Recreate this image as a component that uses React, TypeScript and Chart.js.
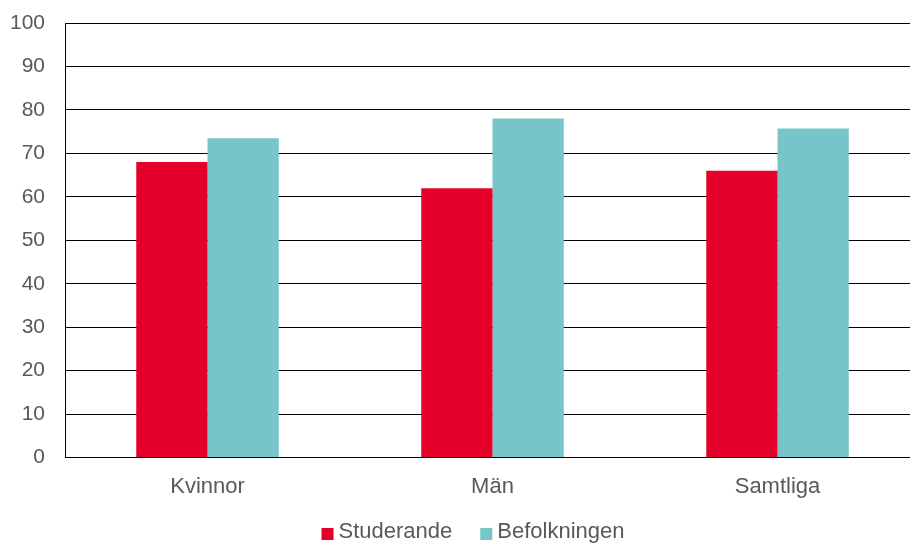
import React, { useEffect, useRef } from "react";
import { Chart, registerables } from "chart.js";

Chart.register(...registerables);

const categories = ["Kvinnor", "Män", "Samtliga"];
const studerande = [68, 62, 66];
const befolkningen = [73.5, 78, 75.7];
const seriesNames = ["Studerande", "Befolkningen"];
const seriesColors = ["#E4002B", "#77C5C8"];
const yTicks = [0, 10, 20, 30, 40, 50, 60, 70, 80, 90, 100];

const FONT = "Liberation Sans, Arial, sans-serif";
const TEXT = "#595959";

const customLegend = {
  id: "customLegend",
  afterDraw(chart: any) {
    const ctx = chart.ctx as CanvasRenderingContext2D;
    ctx.save();
    ctx.font = `22px ${FONT}`;
    ctx.textBaseline = "middle";
    ctx.textAlign = "left";
    const box = 12;
    const gap = 5;
    const itemGap = 28;
    const items = chart.data.datasets.map((d: any) => ({
      label: d.label as string,
      color: d.backgroundColor as string,
      w: ctx.measureText(d.label).width,
    }));
    const total =
      items.reduce((a: number, it: any) => a + box + gap + it.w, 0) +
      itemGap * (items.length - 1);
    let x = chart.width / 2 + 13 - total / 2;
    const y = 532;
    for (const it of items) {
      ctx.fillStyle = it.color;
      ctx.fillRect(x, y - 4, box, box);
      ctx.fillStyle = TEXT;
      ctx.fillText(it.label, x + box + gap, y);
      x += box + gap + it.w + itemGap;
    }
    ctx.restore();
  },
};

export default function App() {
  const ref = useRef<HTMLCanvasElement | null>(null);
  useEffect(() => {
    document.body.style.margin = "0";
    const ctx = ref.current!;
    const chart = new Chart(ctx, {
      type: "bar",
      data: {
        labels: categories,
        datasets: [
          {
            label: seriesNames[0],
            data: studerande,
            backgroundColor: seriesColors[0],
            categoryPercentage: 0.5,
            barPercentage: 1,
          },
          {
            label: seriesNames[1],
            data: befolkningen,
            backgroundColor: seriesColors[1],
            categoryPercentage: 0.5,
            barPercentage: 1,
          },
        ],
      },
      plugins: [customLegend],
      options: {
        animation: false,
        responsive: false,
        maintainAspectRatio: false,
        layout: { padding: { top: 23, right: 0, left: 0, bottom: 28 } },
        plugins: {
          tooltip: { enabled: false },
          legend: { display: false },
        },
        scales: {
          x: {
            grid: { display: false, drawTicks: false },
            border: { color: "#000", width: 1 },
            ticks: {
              color: TEXT,
              font: { family: FONT, size: 22 },
              padding: 16,
            },
          },
          y: {
            min: 0,
            max: 100,
            afterFit: (s: any) => {
              s.width = 65;
              s.paddingTop = 0;
              s.paddingBottom = 0;
            },
            afterBuildTicks: (s: any) => {
              s.ticks = yTicks.map((v) => ({ value: v }));
            },
            grid: { color: "#000", lineWidth: 1, drawTicks: false },
            border: { color: "#000", width: 1 },
            ticks: {
              color: TEXT,
              font: { family: FONT, size: 21 },
              padding: 20,
            },
          },
        },
      },
    });
    return () => chart.destroy();
  }, []);
  return (
    <div style={{ position: "fixed", left: 0, top: 0, width: 910, height: 544, overflow: "hidden" }}>
      <canvas ref={ref} width={920} height={544} />
    </div>
  );
}
